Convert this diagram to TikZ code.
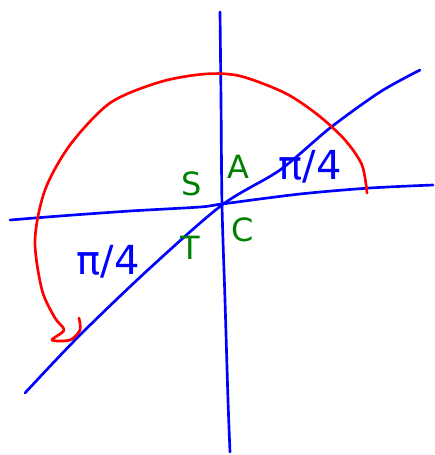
\documentclass[tikz,border=0pt]{standalone}
\usepackage{fontspec}
\setmainfont{DejaVu Sans}
\begin{document}
\begin{tikzpicture}[x=0.75pt,y=-0.75pt,
  axis/.style={draw=blue, line width=2pt, line cap=round, line join=round},
  arcline/.style={draw=red, line width=2pt, line cap=round, line join=round},
  quad/.style={text=green!50!black, font=\fontsize{24}{24}\selectfont, inner sep=0pt},
  angle/.style={text=blue, font=\fontsize{30}{30}\selectfont, inner sep=0pt}]
\useasboundingbox (0,0) rectangle (435,455);
% vertical axis
\draw[axis] plot[smooth] coordinates {(220,12) (221,100) (222,205) (225,300) (228,400) (230,452)};
% horizontal axis
\draw[axis] plot[smooth] coordinates {(10,220) (60,216) (130,211) (200,207) (222,204) (300,194) (370,188) (433,185)};
% diagonal
\draw[axis] plot[smooth] coordinates {(25,393) (80,335) (150,268) (222,205) (280,170) (330,128) (380,92) (420,70)};
% red arc
\draw[arcline] plot[smooth] coordinates {(367,193) (362,165) (345,140) (318,115) (285,93) (240,76) (205,74) (160,82) (110,103) (70,145) (45,190) (35,240) (42,290) (55,318) (64,330) (52,340) (70,340) (80,330) (79,318)};
% labels
\node[quad] (S) at (192,184) {S};
\node[quad] (A) at (238,167) {A};
\node[quad] (T) at (190,248) {T};
\node[quad] (C) at (243,230) {C};
\node[angle] (p1) at (310,167) {π/4};
\node[angle] (p2) at (108,262) {π/4};
\end{tikzpicture}
\end{document}
